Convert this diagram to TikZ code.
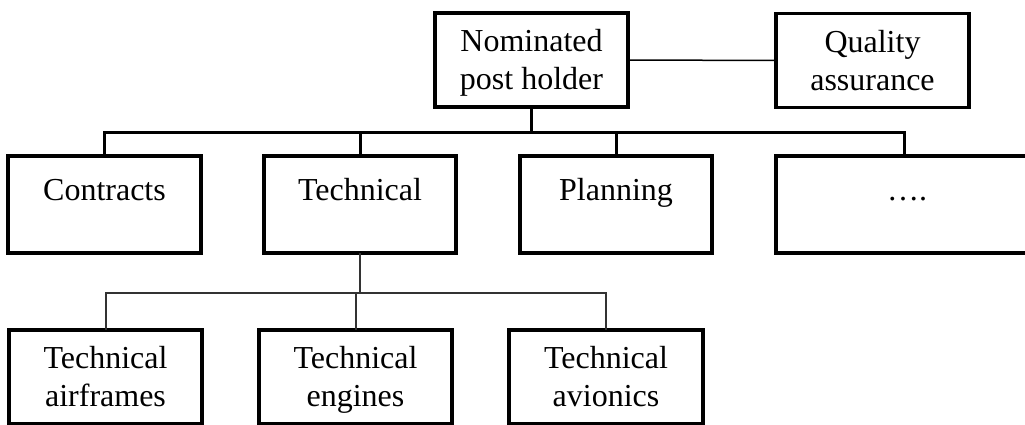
\documentclass[tikz,border=0pt]{standalone}
\usepackage{fontspec}
\setmainfont{Liberation Serif}
\newcommand\tallstrut{\rule{0pt}{33pt}}
\begin{document}
\begin{tikzpicture}[x=1pt,y=-1pt,
  box/.style={draw, line width=3.5pt, minimum width=193pt, minimum height=94pt,
    inner sep=0pt, outer sep=0pt, align=center, font=\fontsize{32}{38}\selectfont},
  onebox/.style={box, minimum height=97pt, text height=22pt, text depth=31pt},
  busline/.style={line width=3pt},
  link/.style={line width=1.5pt},
  subline/.style={line width=2pt, draw=black!80}]
\useasboundingbox (0,0) rectangle (1025,425);
\begin{scope}
\clip (0,0) rectangle (1025,425);
% top row
\node[box] (nph) at (531.5,60) {Nominated\tallstrut\\post holder\strut};
\node[box] (qa) at (872.5,60.5) {Quality\tallstrut\\assurance\strut};
% second row
\node[onebox] (con) at (104.5,204.5) {Contracts};
\node[onebox, minimum width=192pt] (tech) at (360,204.5) {Technical};
\node[onebox, minimum width=192pt] (plan) at (616,204.5) {Planning};
\node[onebox, minimum width=262pt] (dots) at (907,204.5) {\dots.};
% third row
\node[box] (af) at (105.5,377) {Technical\tallstrut\\airframes\strut};
\node[box] (eng) at (355.5,377) {Technical\tallstrut\\engines\strut};
\node[box, minimum width=194pt] (av) at (606,377) {Technical\tallstrut\\avionics\strut};
% connectors
\coordinate (bus) at (531.5,133);
\coordinate (dotsdrop) at (904,156);
\coordinate (sub) at (360,293);
\draw[link] (nph.east) -- (qa.west);
\draw[busline] (nph.south) -- (bus);
\draw[busline] (con.north) |- (bus) -| (dotsdrop);
\draw[busline] (tech.north) -- (tech.north |- bus);
\draw[busline] (plan.north) -- (plan.north |- bus);
\draw[subline] (tech.south) -- (sub);
\draw[subline] (af.north) |- (sub) -| (av.north);
\draw[subline] (eng.north) -- (eng.north |- sub);
\end{scope}
\end{tikzpicture}
\end{document}
